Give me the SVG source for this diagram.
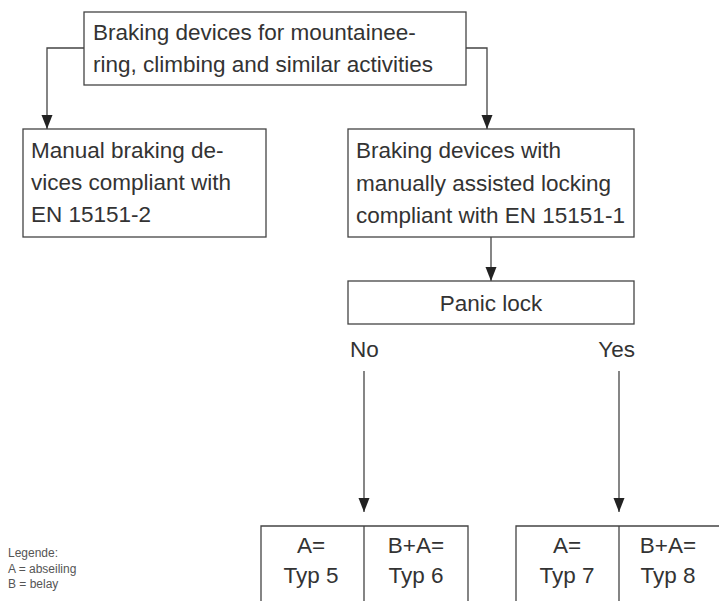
<svg xmlns="http://www.w3.org/2000/svg" width="719" height="601" viewBox="0 0 719 601">
<defs>
<marker id="arr" markerUnits="userSpaceOnUse" markerWidth="14" markerHeight="12" refX="14" refY="5.5" orient="auto">
<path d="M0,0 L14,5.5 L0,11 z" fill="#222"/>
</marker>
<style>
.box{fill:#fff;stroke:#444;stroke-width:1.3}
.ln{fill:none;stroke:#444;stroke-width:1.3}
.t{font-family:"Liberation Sans",Arial,sans-serif;font-size:22.5px;fill:#333}
.c{text-anchor:middle}
.lg{font-family:"Liberation Sans",Arial,sans-serif;font-size:12px;fill:#555}
</style>
</defs>
<rect width="719" height="601" fill="#fff"/>
<g id="connectors">
<path class="ln" d="M84,48 H47 V129" marker-end="url(#arr)"/>
<path class="ln" d="M466,48 H487 V129" marker-end="url(#arr)"/>
<path class="ln" d="M491,237 V281" marker-end="url(#arr)"/>
<path class="ln" d="M364,371 V512" marker-end="url(#arr)"/>
<path class="ln" d="M619,371 V512" marker-end="url(#arr)"/>
</g>
<g id="root">
<rect class="box" x="84" y="12" width="382" height="73"/>
<text class="t" x="93" y="40">Braking devices for mountainee-</text>
<text class="t" x="93" y="72">ring, climbing and similar activities</text>
</g>
<g id="manual">
<rect class="box" x="23" y="129" width="243" height="108"/>
<text class="t" x="31" y="158">Manual braking de-</text>
<text class="t" x="31" y="190">vices compliant with</text>
<text class="t" x="31" y="222">EN 15151-2</text>
</g>
<g id="assisted">
<rect class="box" x="348" y="129" width="286" height="108"/>
<text class="t" x="356" y="158">Braking devices with</text>
<text class="t" x="356" y="191">manually assisted locking</text>
<text class="t" x="356" y="223">compliant with EN 15151-1</text>
</g>
<g id="panic">
<rect class="box" x="348" y="281" width="286" height="43"/>
<text class="t c" x="491" y="311">Panic lock</text>
</g>
<g id="labels">
<text class="t" x="350" y="357">No</text>
<text class="t" x="635" y="357" text-anchor="end">Yes</text>
</g>
<g id="types-no">
<path class="ln" d="M261,601 V526 H468 V601 M364,526 V601"/>
<text class="t c" x="311" y="553">A=</text>
<text class="t c" x="311" y="583">Typ 5</text>
<text class="t c" x="416" y="553">B+A=</text>
<text class="t c" x="416" y="583">Typ 6</text>
</g>
<g id="types-yes">
<path class="ln" d="M516,601 V526 H719 M619,526 V601"/>
<text class="t c" x="567" y="553">A=</text>
<text class="t c" x="567" y="583">Typ 7</text>
<text class="t c" x="668" y="553">B+A=</text>
<text class="t c" x="668" y="583">Typ 8</text>
</g>
<g id="legend">
<text class="lg" x="8" y="557">Legende:</text>
<text class="lg" x="8" y="573">A = abseiling</text>
<text class="lg" x="8" y="588">B = belay</text>
</g>
</svg>
